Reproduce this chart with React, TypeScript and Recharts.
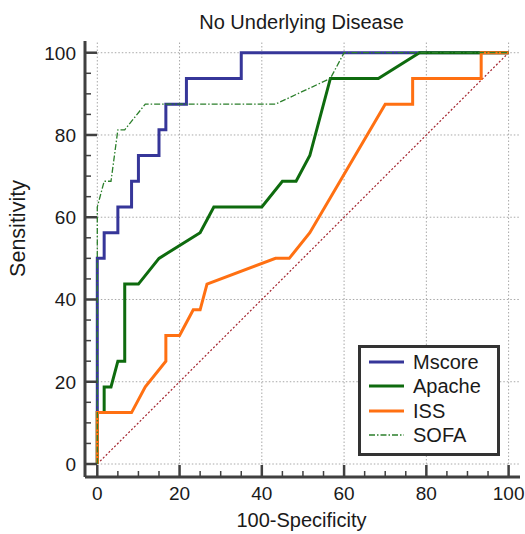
import React from 'react';
import { LineChart, Line, XAxis, YAxis, ReferenceLine } from 'recharts';

// ---- data (100-Specificity vs Sensitivity) ----
const mscoreFpr = [0, 0, 1.67, 1.67, 5, 5, 8.33, 8.33, 10, 10, 15, 15, 16.67, 16.67, 21.67, 21.67, 35, 35, 100];
const mscoreTpr = [0, 50, 50, 56.25, 56.25, 62.5, 62.5, 68.75, 68.75, 75, 75, 81.25, 81.25, 87.5, 87.5, 93.75, 93.75, 100, 100];

const apacheFpr = [0, 0, 1.67, 1.67, 3.33, 5, 6.67, 6.67, 10, 15, 25, 28.33, 40, 45, 48.33, 51.67, 56.67, 68.33, 78.33, 100];
const apacheTpr = [0, 12.5, 12.5, 18.75, 18.75, 25, 25, 43.75, 43.75, 50, 56.25, 62.5, 62.5, 68.75, 68.75, 75, 93.75, 93.75, 100, 100];

const issFpr = [0, 0, 8.33, 11.67, 16.67, 16.67, 20, 23.33, 25, 26.67, 43.33, 46.67, 51.67, 70, 76.67, 76.67, 93.33, 93.33, 100];
const issTpr = [0, 12.5, 12.5, 18.75, 25, 31.25, 31.25, 37.5, 37.5, 43.75, 50, 50, 56.25, 87.5, 87.5, 93.75, 93.75, 100, 100];

const sofaFpr = [0, 0, 1.67, 3.33, 5, 6.67, 11.67, 43.33, 56.67, 60, 100];
const sofaTpr = [0, 62.5, 68.75, 68.75, 81.25, 81.25, 87.5, 87.5, 93.75, 100, 100];

const diagFpr = [0, 100];
const diagTpr = [0, 100];

const axisTicks = [0, 5, 10, 15, 20, 25, 30, 35, 40, 45, 50, 55, 60, 65, 70, 75, 80, 85, 90, 95, 100];
const majorTicks = [0, 20, 40, 60, 80, 100];

const titleText = 'No Underlying Disease';
const xLabel = '100-Specificity';
const yLabel = 'Sensitivity';

// ---- styling ----
const FONT = '"Liberation Sans", Arial, Helvetica, sans-serif';
const X_DOMAIN: [number, number] = [-2.99, 102.77];
const Y_DOMAIN: [number, number] = [-3.16, 102.85];
const AXIS_COLOR = '#404040';
const TEXT_COLOR = '#1a1a1a';

const toPoints = (xs: number[], ys: number[]) => xs.map((x, i) => ({ x, y: ys[i] }));

const series = [
  { name: 'Mscore', data: toPoints(mscoreFpr, mscoreTpr), color: '#363699', width: 3, dash: undefined as string | undefined },
  { name: 'Apache', data: toPoints(apacheFpr, apacheTpr), color: '#0e6b0e', width: 3, dash: undefined },
  { name: 'ISS', data: toPoints(issFpr, issTpr), color: '#ff7012', width: 3, dash: undefined },
  { name: 'SOFA', data: toPoints(sofaFpr, sofaTpr), color: '#2b7f2b', width: 1.3, dash: '6 2 1.5 2' },
];

const YTick = (props: any) => {
  const { x, y, payload } = props;
  const major = payload.value % 20 === 0;
  return (
    <g>
      <line x1={x} x2={x + (major ? 12 : 6)} y1={y} y2={y} stroke={AXIS_COLOR} strokeWidth={major ? 2.5 : 1.5} />
      {major && (
        <text x={x - 9} y={y} dy="0.36em" textAnchor="end" fontSize={19} fontFamily={FONT} fill={TEXT_COLOR}>
          {payload.value}
        </text>
      )}
    </g>
  );
};

const XTick = (props: any) => {
  const { x, y, payload } = props;
  const major = payload.value % 20 === 0;
  return (
    <g>
      <line x1={x} x2={x} y1={y} y2={y - (major ? 12 : 6)} stroke={AXIS_COLOR} strokeWidth={major ? 2.5 : 1.5} />
      {major && (
        <text x={x} y={y + 23} textAnchor="middle" fontSize={19} fontFamily={FONT} fill={TEXT_COLOR}>
          {payload.value}
        </text>
      )}
    </g>
  );
};

const LegendBox = () => (
  <div
    style={{
      position: 'absolute',
      left: 358,
      top: 345,
      width: 142,
      height: 111,
      boxSizing: 'border-box',
      border: `3px solid #333333`,
      background: '#ffffff',
      paddingTop: 2,
      fontFamily: FONT,
      fontSize: 20,
      color: TEXT_COLOR,
    }}
  >
    {series.map((s) => (
      <div key={s.name} style={{ height: 24.3, display: 'flex', alignItems: 'center' }}>
        <svg width={52} height={10} style={{ display: 'block' }}>
          <line x1={8} x2={43} y1={5} y2={5} stroke={s.color} strokeWidth={s.width} strokeDasharray={s.dash} />
        </svg>
        <span style={{ lineHeight: '24px' }}>{s.name}</span>
      </div>
    ))}
  </div>
);

export default function App() {
  return (
    <div style={{ position: 'relative', width: 525, height: 534, background: '#fff' }}>
      <style>{'body{margin:0;}'}</style>
      <LineChart width={525} height={534} margin={{ top: 41, right: 5, bottom: 17, left: 25 }}>
        <XAxis
          type="number"
          dataKey="x"
          domain={X_DOMAIN}
          allowDataOverflow
          ticks={axisTicks}
          interval={0}
          tickSize={0}
          tickMargin={0}
          tickLine={false}
          tick={<XTick />}
          height={40}
          axisLine={{ stroke: AXIS_COLOR, strokeWidth: 3 }}
        />
        <YAxis
          type="number"
          dataKey="y"
          domain={Y_DOMAIN}
          allowDataOverflow
          ticks={axisTicks}
          interval={0}
          tickSize={0}
          tickMargin={0}
          tickLine={false}
          tick={<YTick />}
          width={60}
          axisLine={{ stroke: AXIS_COLOR, strokeWidth: 3 }}
        />
        {majorTicks.map((v) => (
          <ReferenceLine
            key={`h${v}`}
            segment={[{ x: 0, y: v }, { x: X_DOMAIN[1], y: v }]}
            stroke="#a8a8a8"
            strokeWidth={1}
            strokeDasharray="1.5 2"
          />
        ))}
        {majorTicks.map((v) => (
          <ReferenceLine
            key={`v${v}`}
            segment={[{ x: v, y: 0 }, { x: v, y: Y_DOMAIN[1] }]}
            stroke="#a8a8a8"
            strokeWidth={1}
            strokeDasharray="1.5 2"
          />
        ))}
        <Line
          data={toPoints(diagFpr, diagTpr)}
          dataKey="y"
          type="linear"
          stroke="#a3232d"
          strokeWidth={1.2}
          strokeDasharray="2 2"
          dot={false}
          activeDot={false}
          isAnimationActive={false}
          legendType="none"
        />
        {series.map((s) => (
          <Line
            key={s.name}
            name={s.name}
            data={s.data}
            dataKey="y"
            type="linear"
            stroke={s.color}
            strokeWidth={s.width}
            strokeDasharray={s.dash}
            dot={false}
            activeDot={false}
            isAnimationActive={false}
          />
        ))}
        <text x={301.5} y={29.3} textAnchor="middle" fontSize={20} fontFamily={FONT} fill={TEXT_COLOR}>
          {titleText}
        </text>
        <text x={301.5} y={526.7} textAnchor="middle" fontSize={20} fontFamily={FONT} fill={TEXT_COLOR}>
          {xLabel}
        </text>
        <text
          x={25}
          y={228.5}
          textAnchor="middle"
          fontSize={21.5}
          fontFamily={FONT}
          fill={TEXT_COLOR}
          transform="rotate(-90 25 228.5)"
        >
          {yLabel}
        </text>
      </LineChart>
      <LegendBox />
    </div>
  );
}
